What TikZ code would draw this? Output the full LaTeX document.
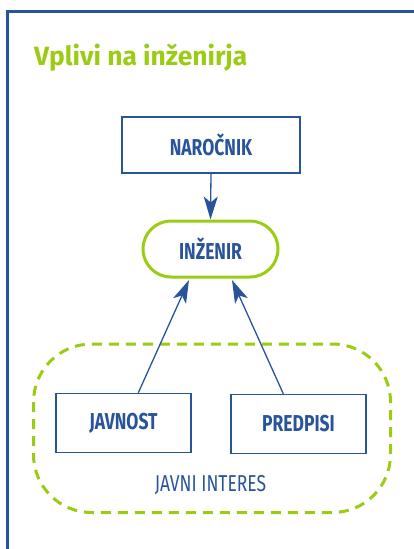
\documentclass[tikz,border=0pt]{standalone}
\usepackage{fontspec}
\setmainfont{Fira Sans}
\newfontfamily\titlefont{Fira Sans}
\newfontfamily\condfont[FakeStretch=0.76]{Fira Sans}
\usetikzlibrary{arrows.meta,shapes.misc}
\definecolor{myblue}{RGB}{40,84,155}
\definecolor{mygreen}{RGB}{155,204,20}
\tikzset{
  blockbox/.style={draw=myblue, line width=1.5pt, minimum width=#1, inner sep=0pt, text=myblue, font=\condfont\bfseries\fontsize{23}{23}\selectfont},
  blockbox/.default=135pt,
  conn/.style={draw=myblue, line width=1.3pt, -{Stealth[length=23pt,width=14pt,inset=6pt]}},
}
\begin{document}
\begin{tikzpicture}[x=1pt,y=-1pt]
\useasboundingbox (0,0) rectangle (414,549);
% frame
\draw[myblue, line width=2.5pt] (7.5,549) -- (7.5,11.5) -- (414,11.5);
% title
\node[anchor=base west, text=mygreen, inner sep=0pt, font=\titlefont\bfseries\fontsize{26.4}{26.4}\selectfont] (title) at (34,65) {Vplivi na inženirja};
% group
\draw[mygreen, line width=3pt, dash pattern=on 10pt off 7pt, rounded corners=58pt] (33.5,344) rectangle (390.5,512.5);
% nodes
\node[blockbox=178pt, minimum height=56pt] (nar) at (211,145) {NAROČNIK};
\node[draw=mygreen, line width=3pt, rounded rectangle, minimum width=135pt, minimum height=56pt, inner sep=0pt, text=myblue, font=\condfont\bfseries\fontsize{23}{23}\selectfont] (inz) at (210.5,249) {INŽENIR};
\node[blockbox, minimum height=59pt] (jav) at (123.5,423) {JAVNOST};
\node[blockbox, minimum height=59pt] (pre) at (298.5,424) {PREDPISI};
\node[text=myblue, inner sep=0pt, font=\condfont\fontsize{23}{23}\selectfont] (ji) at (210.5,485.5) {JAVNI INTERES};
% connectors
\coordinate (a1) at (189,280);
\coordinate (a2) at (232,280);
\draw[conn] (nar.south) -- (inz.north);
\draw[conn] (jav.north -| 138.3,0) -- (a1);
\draw[conn] (pre.north -| 283.3,0) -- (a2);
\end{tikzpicture}
\end{document}
